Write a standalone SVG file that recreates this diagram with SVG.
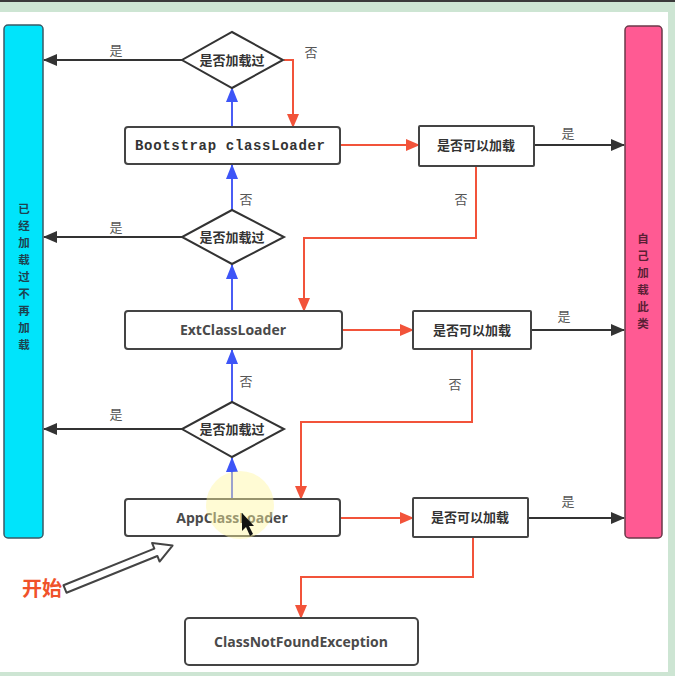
<svg xmlns="http://www.w3.org/2000/svg" width="675" height="676" viewBox="0 0 675 676">
  <style>
    .box { fill: #ffffff; stroke: #444444; stroke-width: 2; }
    .dia { fill: #ffffff; stroke: #333333; stroke-width: 2; }
    .cn { font-family: "Noto Sans CJK SC", "Noto Sans", sans-serif; font-size: 13px; font-weight: bold; fill: #333333; text-anchor: middle; }
    .lbl { font-family: "Noto Sans CJK SC", "Noto Sans", sans-serif; font-size: 13px; fill: #555555; text-anchor: middle; }
    .en { font-family: "Open Sans", "Noto Sans", sans-serif; font-size: 14px; font-weight: bold; fill: #4a4a4a; text-anchor: middle; }
    .mono { font-family: "Liberation Mono", "DejaVu Sans Mono", monospace; font-size: 14px; font-weight: bold; fill: #333333; text-anchor: middle; }
    .blk { fill: none; stroke: #333333; stroke-width: 2; marker-end: url(#ahBlack); }
    .red { fill: none; stroke: #f2533a; stroke-width: 2; marker-end: url(#ahRed); }
    .blue { fill: none; stroke: #4a5cf5; stroke-width: 2; marker-end: url(#ahBlue); }
    .vl { font-family: "Noto Sans CJK SC", "Noto Sans", sans-serif; font-size: 11.5px; font-weight: bold; fill: #1d4350; text-anchor: middle; }
    .vr { font-family: "Noto Sans CJK SC", "Noto Sans", sans-serif; font-size: 11.5px; font-weight: bold; fill: #5a1f35; text-anchor: middle; }
  </style>
  <defs>
    <marker id="ahBlack" markerUnits="userSpaceOnUse" viewBox="0 0 14 12" markerWidth="14" markerHeight="12" refX="13" refY="6" orient="auto">
      <path d="M0,0 L14,6 L0,12 Z" fill="#333333"/>
    </marker>
    <marker id="ahRed" markerUnits="userSpaceOnUse" viewBox="0 0 14 12" markerWidth="14" markerHeight="12" refX="13" refY="6" orient="auto">
      <path d="M0,0 L14,6 L0,12 Z" fill="#f2533a"/>
    </marker>
    <marker id="ahBlue" markerUnits="userSpaceOnUse" viewBox="0 0 15 12" markerWidth="15" markerHeight="12" refX="14" refY="6" orient="auto">
      <path d="M0,0 L15,6 L0,12 Z" fill="#3d55f7"/>
    </marker>
  </defs>

  <!-- window frame -->
  <rect x="0" y="0" width="675" height="676" fill="#cde5d3"/>
  <rect x="0" y="0" width="675" height="2" fill="#3a3a3a"/>
  <rect x="0" y="12" width="668" height="660" fill="#ffffff"/>

  <!-- side bars -->
  <g id="loaded-bar">
    <rect x="4" y="25" width="39" height="513" rx="4" fill="#00e4fb" stroke="#3a5a66" stroke-width="1.5"/>
    <text class="vl" x="24" y="213">已</text>
    <text class="vl" x="24" y="230">经</text>
    <text class="vl" x="24" y="247">加</text>
    <text class="vl" x="24" y="264">载</text>
    <text class="vl" x="24" y="281">过</text>
    <text class="vl" x="24" y="298">不</text>
    <text class="vl" x="24" y="315">再</text>
    <text class="vl" x="24" y="332">加</text>
    <text class="vl" x="24" y="349">载</text>
  </g>
  <g id="self-load-bar">
    <rect x="625" y="26" width="37" height="512" rx="4" fill="#ff5a93" stroke="#6a3a4a" stroke-width="1.5"/>
    <text class="vr" x="643" y="243">自</text>
    <text class="vr" x="643" y="260">己</text>
    <text class="vr" x="643" y="277">加</text>
    <text class="vr" x="643" y="294">载</text>
    <text class="vr" x="643" y="311">此</text>
    <text class="vr" x="643" y="328">类</text>
  </g>

  <!-- connectors -->
  <g id="connectors">
    <!-- already loaded -> left bar -->
    <path class="blk" d="M182,60 L44,60"/>
    <path class="blk" d="M182,237 L44,237"/>
    <path class="blk" d="M182,429 L44,429"/>
    <!-- can load -> right bar -->
    <path class="blk" d="M534,145 L624,145"/>
    <path class="blk" d="M531,330 L624,330"/>
    <path class="blk" d="M528,518 L624,518"/>
    <!-- delegate upward -->
    <path class="blue" d="M232,127 L232,88"/>
    <path class="blue" d="M232,210 L232,165"/>
    <path class="blue" d="M232,311 L232,265"/>
    <path class="blue" d="M232,402 L232,350"/>
    <path class="blue" d="M232,499 L232,458"/>
    <!-- not loaded / cannot load -->
    <path class="red" d="M284,60 L293,60 L293,127"/>
    <path class="red" d="M340,145 L419,145"/>
    <path class="red" d="M476,166 L476,238 L304,238 L304,311"/>
    <path class="red" d="M342,330 L413,330"/>
    <path class="red" d="M472,349 L472,422 L301,422 L301,499"/>
    <path class="red" d="M340,518 L413,518"/>
    <path class="red" d="M473,537 L473,577 L301,577 L301,618"/>
    <!-- labels -->
    <text class="lbl" x="116" y="55">是</text>
    <text class="lbl" x="116" y="232">是</text>
    <text class="lbl" x="116" y="419">是</text>
    <text class="lbl" x="568" y="138">是</text>
    <text class="lbl" x="564" y="321">是</text>
    <text class="lbl" x="568" y="506">是</text>
    <text class="lbl" x="311" y="57">否</text>
    <text class="lbl" x="246" y="204">否</text>
    <text class="lbl" x="246" y="386">否</text>
    <text class="lbl" x="461" y="204">否</text>
    <text class="lbl" x="455" y="389">否</text>
  </g>

  <!-- loaded checks -->
  <g id="check-bootstrap">
    <polygon class="dia" points="232,32 283,60 232,88 182,60"/>
    <text class="cn" x="232" y="65">是否加载过</text>
  </g>
  <g id="check-ext">
    <polygon class="dia" points="232,210 284,237 232,264 182,237"/>
    <text class="cn" x="232" y="242">是否加载过</text>
  </g>
  <g id="check-app">
    <polygon class="dia" points="232,402 284,429 232,457 182,429"/>
    <text class="cn" x="232" y="434">是否加载过</text>
  </g>

  <!-- loaders -->
  <g id="bootstrap-loader">
    <rect class="box" x="125" y="127" width="215" height="37" rx="3"/>
    <text class="mono" x="230" y="150" textLength="190" lengthAdjust="spacing">Bootstrap classLoader</text>
  </g>
  <g id="ext-loader">
    <rect class="box" x="125" y="311" width="217" height="38" rx="3"/>
    <text class="en" x="233" y="335">ExtClassLoader</text>
  </g>
  <g id="app-loader">
    <rect class="box" x="125" y="499" width="215" height="37" rx="3"/>
    <text class="en" x="232" y="523">AppClassLoader</text>
  </g>

  <!-- can-load checks -->
  <g id="can-load-bootstrap">
    <rect class="box" x="419" y="126" width="115" height="40" rx="1"/>
    <text class="cn" x="476" y="150">是否可以加载</text>
  </g>
  <g id="can-load-ext">
    <rect class="box" x="413" y="311" width="118" height="38" rx="1"/>
    <text class="cn" x="472" y="335">是否可以加载</text>
  </g>
  <g id="can-load-app">
    <rect class="box" x="413" y="498" width="115" height="39" rx="1"/>
    <text class="cn" x="470" y="522">是否可以加载</text>
  </g>

  <g id="class-not-found">
    <rect class="box" x="185" y="618" width="233" height="47" rx="4"/>
    <text class="en" x="301" y="647">ClassNotFoundException</text>
  </g>

  <!-- start marker -->
  <g id="start">
    <text x="42" y="596" font-family="Noto Sans CJK SC, sans-serif" font-size="20" font-weight="bold" fill="#f0522a" text-anchor="middle">开始</text>
    <g transform="translate(65,589) rotate(-22)">
      <polygon points="0,-4 98,-4 98,-10 116,0 98,10 98,4 0,4" fill="#ffffff" stroke="#444444" stroke-width="2" stroke-linejoin="round"/>
    </g>
  </g>

  <!-- pointer highlight -->
  <g id="pointer">
    <circle cx="240" cy="505" r="34" fill="#fff6a0" opacity="0.45"/>
    <polygon points="242,513 242,531 246,527 250,536 253,534 249,526 254,526" fill="#111111"/>
  </g>
</svg>
